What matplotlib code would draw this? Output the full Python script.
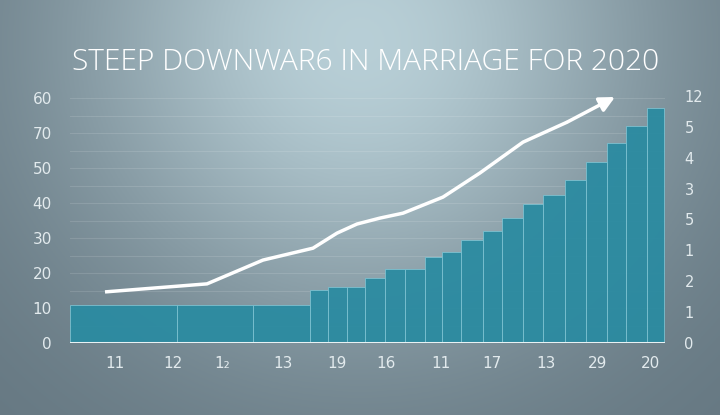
import numpy as np
import matplotlib
matplotlib.use("Agg")
import matplotlib.pyplot as plt

# ---------------- data ----------------
title_text = "STEEP DOWNWAR6 IN MARRIAGE FOR 2020"
bar_starts = [0.0, 5.35, 9.15, 12.0, 12.9, 13.85, 14.75, 15.75, 16.75, 17.75, 18.6,
              19.55, 20.65, 21.6, 22.65, 23.65, 24.75, 25.8, 26.85, 27.8, 28.85]
bar_ends = [5.35, 9.15, 12.0, 12.9, 13.85, 14.75, 15.75, 16.75, 17.75, 18.6, 19.55,
            20.65, 21.6, 22.65, 23.65, 24.75, 25.8, 26.85, 27.8, 28.85, 29.7]
bar_values = [10.9, 10.9, 10.9, 15.1, 16.0, 16.0, 18.6, 21.1, 21.1, 24.6, 26.0,
              29.4, 32.0, 35.7, 39.7, 42.3, 46.6, 51.7, 57.1, 62.0, 67.1]
line_x = [1.75, 6.85, 9.65, 12.15, 13.35, 14.35, 15.5, 16.65, 18.65, 20.5, 22.65, 24.85, 27.25]
line_y = [14.6, 16.9, 23.7, 27.1, 31.4, 34.0, 35.7, 37.1, 41.7, 48.6, 57.4, 63.1, 70.3]
left_ticks = [0, 10, 20, 30, 40, 50, 60, 70]
left_labels = ["0", "10", "20", "30", "40", "50", "70", "60"]
right_ticks = [0, 1, 2, 3, 4, 5, 6, 7, 8]
right_labels = ["0", "1", "2", "1", "5", "3", "4", "5", "12"]
x_ticks = [2.25, 5.15, 7.6, 10.65, 13.35, 15.8, 18.55, 21.1, 23.8, 26.4, 29.0]
x_labels = ["11", "12", "1₂", "13", "19", "16", "11", "17", "13", "29", "20"]

# ---------------- figure ----------------
W, H = 720, 415
fig = plt.figure(figsize=(W / 100, H / 100), dpi=100)

# background gradient
bg = fig.add_axes([0, 0, 1, 1])
yy, xx = np.mgrid[0:1:200j, 0:1:300j]
w = np.exp(-((xx - 0.5) / 0.42) ** 2 - ((yy - 0.1) / 0.7) ** 2)
light = np.array([0.72, 0.81, 0.84])
dark = np.array([0.39, 0.46, 0.50])
img = dark[None, None, :] + (light - dark)[None, None, :] * w[..., None]
bg.imshow(img, aspect="auto", extent=[0, 1, 0, 1], origin="upper")
bg.set_axis_off()

ax = fig.add_axes([70 / W, 72 / H, 595 / W, 253 / H])
ax.patch.set_alpha(0)
ax.set_xlim(0, 29.75)
ax.set_ylim(0, 72.3)

# faint gridlines
for g in np.arange(5, 72, 5):
    ax.axhline(g, color="white", alpha=0.12, lw=0.8, zorder=0)

starts = np.array(bar_starts)
ends = np.array(bar_ends)
ax.bar(starts, bar_values, width=ends - starts, align="edge",
       color="#2b8ba1", edgecolor="#7fc3d2", linewidth=0.6, alpha=0.95, zorder=2)

ax.plot(line_x[:-1], line_y[:-1], color="white", lw=2.5, solid_capstyle="butt", zorder=4)
ax.annotate("", xy=(line_x[-1], line_y[-1]), xytext=(line_x[-2], line_y[-2]),
            arrowprops=dict(arrowstyle="-|>,head_length=0.9,head_width=0.45",
                            color="white", lw=2.5, shrinkA=0, shrinkB=0), zorder=5)

ax.axhline(0, color="#e8f2f4", lw=2.2, zorder=5)

for s in ax.spines.values():
    s.set_visible(False)
ax.set_yticks(left_ticks)
ax.set_yticklabels(left_labels)
ax.set_xticks(x_ticks)
ax.set_xticklabels(x_labels)
ax.tick_params(axis="both", length=0, colors="#e2eaed", labelsize=11)
ax.tick_params(axis="y", pad=13)
ax.tick_params(axis="x", pad=9)

ax2 = ax.twinx()
ax2.set_ylim(0, 8.19)
ax2.set_yticks(right_ticks)
ax2.set_yticklabels(right_labels)
for s in ax2.spines.values():
    s.set_visible(False)
ax2.tick_params(axis="y", length=0, colors="#e2eaed", labelsize=10.5, pad=14)

fig.text(72 / W, 1 - 62 / H, title_text, color="white", fontsize=21.6,
         fontfamily="Open Sans", fontweight="light", ha="left", va="center")

fig.savefig("out.png", dpi=100)
